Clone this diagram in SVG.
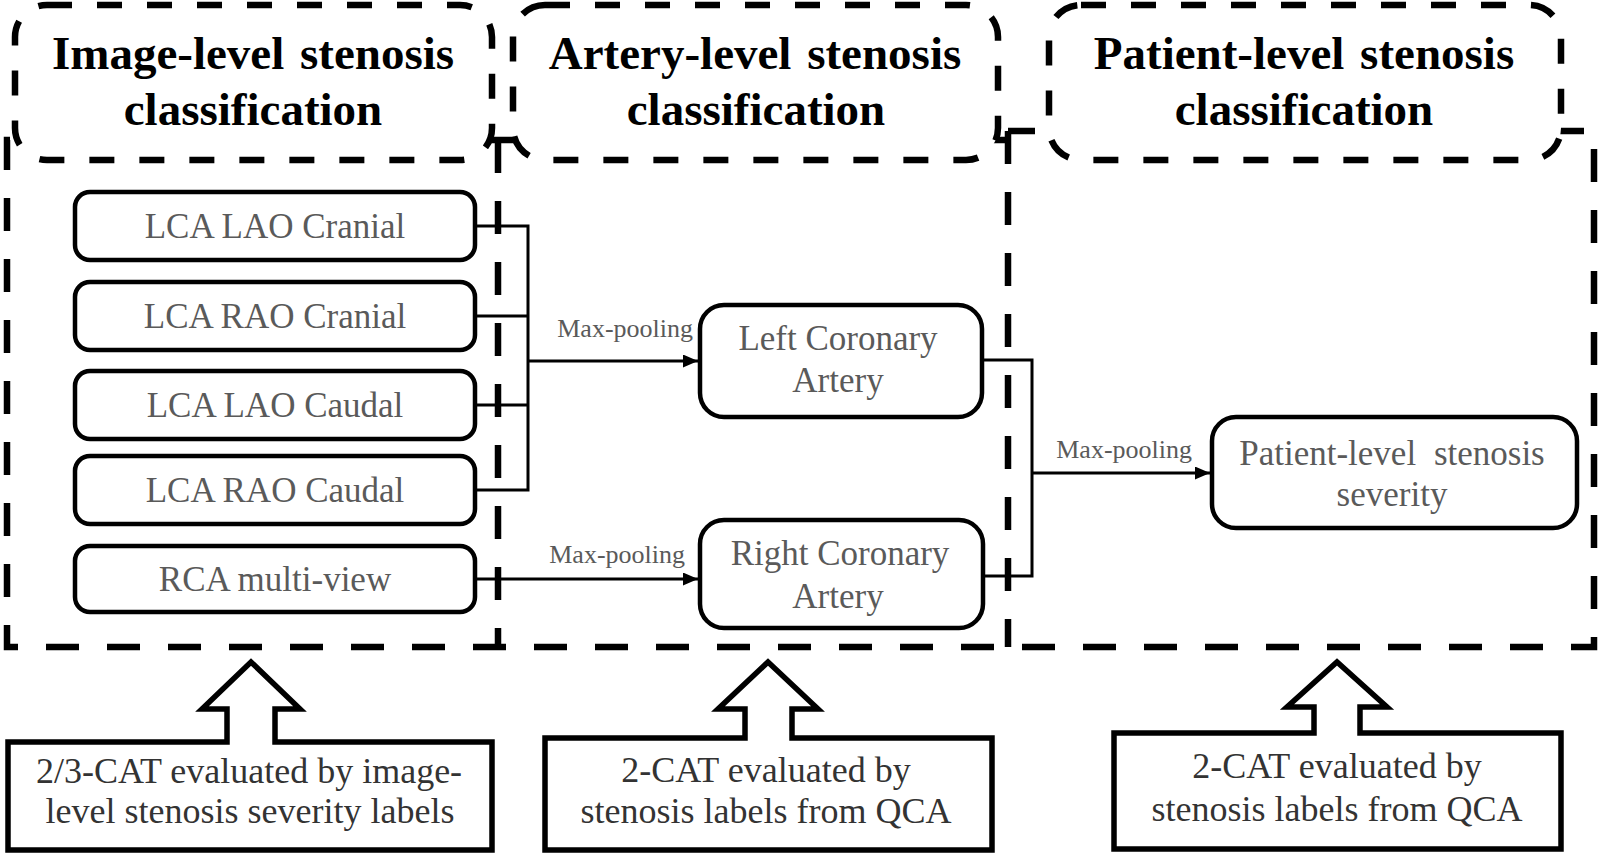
<svg xmlns="http://www.w3.org/2000/svg" width="1600" height="858" viewBox="0 0 1600 858">
<style>
.frame{fill:none;stroke:#000;stroke-width:6.5;stroke-dasharray:33 28}
.hdr{fill:#fff;stroke:#000;stroke-width:6.5;stroke-dasharray:25 25}
.title{font-family:"Liberation Serif",serif;font-weight:bold;font-size:47px;fill:#000;text-anchor:middle;word-spacing:4px}
.box{fill:#fff;stroke:#000;stroke-width:4.5}
.btxt{font-family:"Liberation Serif",serif;font-size:35px;fill:#5a5a5a;text-anchor:middle}
.lbl{font-family:"Liberation Serif",serif;font-size:26px;fill:#5a5a5a;text-anchor:end}
.conn{fill:none;stroke:#000;stroke-width:3}
.ev{fill:#fff;stroke:#000;stroke-width:5.5;stroke-linejoin:miter}
.etxt{font-family:"Liberation Serif",serif;font-size:36px;fill:#333;text-anchor:middle}
</style>
<defs>
<marker id="ah" markerWidth="15" markerHeight="13" refX="15" refY="6.5" orient="auto" markerUnits="userSpaceOnUse"><path d="M0,0 L15,6.5 L0,13 Z" fill="#000"/></marker>
</defs>
<rect width="1600" height="858" fill="#fff"/>

<g id="frames">
<path class="frame" d="M498,140 L7,140 L7,647 L1594,647 L1594,131 L1008,131 M498,140 L1008,140 M498,140 L498,647 M1008,131 L1008,647"/>
</g>

<g id="header-image">
<rect class="hdr" x="15" y="5" width="477" height="155" rx="32"/>
<text class="title" x="253" y="69">Image-level stenosis</text>
<text class="title" x="253" y="125">classification</text>
</g>
<g id="header-artery">
<rect class="hdr" x="513" y="5" width="485" height="155" rx="32"/>
<text class="title" x="755" y="69">Artery-level stenosis</text>
<text class="title" x="756" y="125">classification</text>
</g>
<g id="header-patient">
<rect class="hdr" x="1049" y="5" width="512" height="155" rx="32"/>
<text class="title" x="1304" y="69">Patient-level stenosis</text>
<text class="title" x="1304" y="125">classification</text>
</g>

<g id="connectors">
<path class="conn" d="M475,226 L528,226 L528,490 L475,490 M475,316 L528,316 M475,405 L528,405"/>
<line class="conn" x1="528" y1="361" x2="698" y2="361" marker-end="url(#ah)"/>
<line class="conn" x1="475" y1="579" x2="698" y2="579" marker-end="url(#ah)"/>
<path class="conn" d="M982,360 L1032,360 L1032,576 L983,576"/>
<line class="conn" x1="1032" y1="473" x2="1210" y2="473" marker-end="url(#ah)"/>
<text class="lbl" x="693" y="337">Max-pooling</text>
<text class="lbl" x="685" y="563">Max-pooling</text>
<text class="lbl" x="1192" y="458">Max-pooling</text>
</g>

<g id="lca-lao-cranial">
<rect class="box" x="75" y="192" width="400" height="68" rx="15"/>
<text class="btxt" x="275" y="238">LCA LAO Cranial</text>
</g>
<g id="lca-rao-cranial">
<rect class="box" x="75" y="282" width="400" height="68" rx="15"/>
<text class="btxt" x="275" y="328">LCA RAO Cranial</text>
</g>
<g id="lca-lao-caudal">
<rect class="box" x="75" y="371" width="400" height="68" rx="15"/>
<text class="btxt" x="275" y="417">LCA LAO Caudal</text>
</g>
<g id="lca-rao-caudal">
<rect class="box" x="75" y="456" width="400" height="68" rx="15"/>
<text class="btxt" x="275" y="502">LCA RAO Caudal</text>
</g>
<g id="rca-multi-view">
<rect class="box" x="75" y="546" width="400" height="66" rx="15"/>
<text class="btxt" x="275" y="591">RCA multi-view</text>
</g>

<g id="left-coronary">
<rect class="box" x="700" y="305" width="282" height="112" rx="24"/>
<text class="btxt" x="838" y="350">Left Coronary</text>
<text class="btxt" x="838" y="392">Artery</text>
</g>
<g id="right-coronary">
<rect class="box" x="700" y="520" width="283" height="108" rx="24"/>
<text class="btxt" x="840" y="565">Right Coronary</text>
<text class="btxt" x="838" y="608">Artery</text>
</g>
<g id="patient-severity">
<rect class="box" x="1212" y="417" width="365" height="111" rx="24"/>
<text class="btxt" x="1392" y="465" style="word-spacing:9px">Patient-level stenosis</text>
<text class="btxt" x="1392" y="506">severity</text>
</g>

<g id="eval-image">
<path class="ev" d="M8,742 L227,742 L227,709 L202,709 L251,662 L300,709 L275,709 L275,742 L492,742 L492,850 L8,850 Z"/>
<text class="etxt" x="249" y="783">2/3-CAT evaluated by image-</text>
<text class="etxt" x="250" y="823">level stenosis severity labels</text>
</g>
<g id="eval-artery">
<path class="ev" d="M545,738 L745,738 L745,709 L718,709 L768,662 L818,709 L792,709 L792,738 L992,738 L992,850 L545,850 Z"/>
<text class="etxt" x="766" y="782">2-CAT evaluated by</text>
<text class="etxt" x="766" y="823">stenosis labels from QCA</text>
</g>
<g id="eval-patient">
<path class="ev" d="M1114,733 L1314,733 L1314,707 L1287,707 L1337,662 L1387,707 L1360,707 L1360,733 L1561,733 L1561,849 L1114,849 Z"/>
<text class="etxt" x="1337" y="778">2-CAT evaluated by</text>
<text class="etxt" x="1337" y="821">stenosis labels from QCA</text>
</g>
</svg>
